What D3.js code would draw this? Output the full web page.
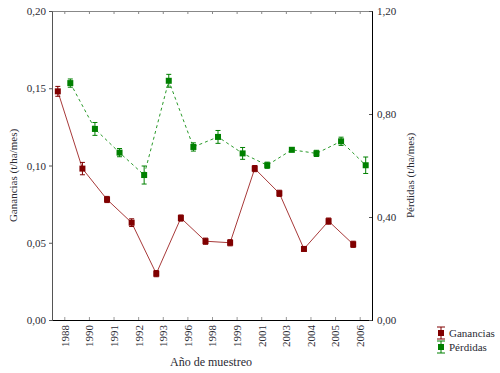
<!DOCTYPE html>
<html>
<head>
<meta charset="utf-8">
<script src="https://cdn.jsdelivr.net/npm/d3@7"></script>
<style>
  body { margin: 0; background: #fff; }
  text { font-family: "Liberation Serif", "Times New Roman", serif; fill: #2a2a33; }
</style>
</head>
<body>
<div id="chart"></div>
<script>
// data
const years = ["1988", "1990", "1991", "1992", "1993", "1996", "1998", "1999", "2001", "2003", "2004", "2005", "2006"];
const ganancias = [0.148, 0.098, 0.078, 0.063, 0.030, 0.066, 0.051, 0.050, 0.098, 0.082, 0.046, 0.064, 0.049];
const gananciasErr = [0.0032, 0.004, 0.002, 0.0025, 0.002, 0.002, 0.002, 0.002, 0.002, 0.002, 0.0015, 0.002, 0.002];
const perdidas = [0.92, 0.742, 0.65, 0.563, 0.929, 0.672, 0.711, 0.647, 0.601, 0.661, 0.647, 0.694, 0.601];
const perdidasErr = [0.016, 0.025, 0.016, 0.035, 0.025, 0.016, 0.025, 0.023, 0.012, 0.008, 0.012, 0.016, 0.032];
const leftTicks = [0, 0.05, 0.10, 0.15, 0.20];
const rightTicks = [0, 0.40, 0.80, 1.20];

const W = 500, H = 373;
const margin = {top: 11, right: 128, bottom: 53, left: 52};
const width = W - margin.left - margin.right;
const height = H - margin.top - margin.bottom;

const fmt = d => d3.format(".2f")(d).replace(".", ",");

const svg = d3.select("#chart").append("svg")
    .attr("width", W)
    .attr("height", H);

const g = svg.append("g")
    .attr("transform", `translate(${margin.left},${margin.top})`);

const x = d3.scalePoint().domain(years).range([0, width]).padding(0.5);
const yL = d3.scaleLinear().domain([0, 0.20]).range([height, 0]);
const yR = d3.scaleLinear().domain([0, 1.20]).range([height, 0]);

// top axis (ticks only, inward)
g.append("g")
    .call(d3.axisTop(x).tickSize(-3).tickFormat(""))
    .call(a => a.selectAll("path,line").attr("stroke", "#888"));

// bottom axis
g.append("g")
    .attr("transform", `translate(0,${height})`)
    .call(d3.axisBottom(x).tickSize(-3).tickPadding(5))
    .call(a => a.select("path").attr("stroke", "#000"))
    .call(a => a.selectAll("line").attr("stroke", "#999"))
    .call(a => a.selectAll("text")
        .attr("font-size", 11)
        .attr("transform", "rotate(-90)")
        .attr("text-anchor", "end")
        .attr("x", -5)
        .attr("y", 0)
        .attr("dy", "0.35em"));

// left axis
g.append("g")
    .call(d3.axisLeft(yL).tickValues(leftTicks).tickFormat(fmt).tickSize(3).tickPadding(3))
    .call(a => a.select("path").attr("stroke", "#555"))
    .call(a => a.selectAll("line").attr("stroke", "#555"))
    .call(a => a.selectAll("text").attr("font-size", 11));

// right axis
g.append("g")
    .attr("transform", `translate(${width},0)`)
    .call(d3.axisRight(yR).tickValues(rightTicks).tickFormat(fmt).tickSize(-3).tickPadding(5))
    .call(a => a.select("path").attr("stroke", "#000"))
    .call(a => a.selectAll("line").attr("stroke", "#555"))
    .call(a => a.selectAll("text").attr("font-size", 11));

// axis titles
svg.append("text")
    .attr("transform", `translate(17,${margin.top + height / 2 + 10}) rotate(-90)`)
    .attr("text-anchor", "middle")
    .attr("font-size", 11)
    .text("Ganancias (t/ha/mes)");

svg.append("text")
    .attr("transform", `translate(414,${margin.top + height / 2 + 10}) rotate(-90)`)
    .attr("text-anchor", "middle")
    .attr("font-size", 11)
    .text("Pérdidas (t/ha/mes)");

svg.append("text")
    .attr("x", 211)
    .attr("y", 366)
    .attr("text-anchor", "middle")
    .attr("font-size", 12)
    .text("Año de muestreo");

// series
const series = [
    {name: "Ganancias", vals: ganancias, err: gananciasErr, y: yL, off: -6.5, color: "#800000", line: "#a83a3a", dash: null},
    {name: "Pérdidas", vals: perdidas, err: perdidasErr, y: yR, off: 6, color: "#008000", line: "#2a9a2a", dash: "3,3"}
];

series.forEach(s => {
    const pts = years.map((yr, i) => ({yr, v: s.vals[i], e: s.err[i]}));
    const px = d => x(d.yr) + s.off;

    g.append("path")
        .datum(pts)
        .attr("fill", "none")
        .attr("stroke", s.line)
        .attr("stroke-width", 1)
        .attr("stroke-dasharray", s.dash)
        .attr("d", d3.line().x(px).y(d => s.y(d.v)));

    const eb = g.append("g").attr("stroke", s.color).attr("stroke-width", 1);
    eb.selectAll(".bar").data(pts).join("line")
        .attr("x1", px).attr("x2", px)
        .attr("y1", d => s.y(d.v - d.e)).attr("y2", d => s.y(d.v + d.e));
    eb.selectAll(".capT").data(pts).join("line")
        .attr("x1", d => px(d) - 2.5).attr("x2", d => px(d) + 2.5)
        .attr("y1", d => s.y(d.v + d.e)).attr("y2", d => s.y(d.v + d.e));
    eb.selectAll(".capB").data(pts).join("line")
        .attr("x1", d => px(d) - 2.5).attr("x2", d => px(d) + 2.5)
        .attr("y1", d => s.y(d.v - d.e)).attr("y2", d => s.y(d.v - d.e));

    g.selectAll(null).data(pts).join("rect")
        .attr("x", d => px(d) - 3)
        .attr("y", d => s.y(d.v) - 3)
        .attr("width", 6)
        .attr("height", 6)
        .attr("fill", s.color);
});

// legend
const legend = svg.append("g").attr("transform", "translate(441,333)");
series.forEach((s, i) => {
    const row = legend.append("g").attr("transform", `translate(0,${i * 14})`);
    row.append("line").attr("x1", 0).attr("x2", 0).attr("y1", -6).attr("y2", 6).attr("stroke", s.color);
    row.append("line").attr("x1", -4).attr("x2", 4).attr("y1", -6).attr("y2", -6).attr("stroke", s.color);
    row.append("line").attr("x1", -4).attr("x2", 4).attr("y1", 6).attr("y2", 6).attr("stroke", s.color);
    row.append("rect").attr("x", -3).attr("y", -3).attr("width", 6).attr("height", 6).attr("fill", s.color);
    row.append("text")
        .attr("x", 8)
        .attr("dy", "0.35em")
        .attr("font-size", 11)
        .text(s.name);
});
</script>
</body>
</html>
